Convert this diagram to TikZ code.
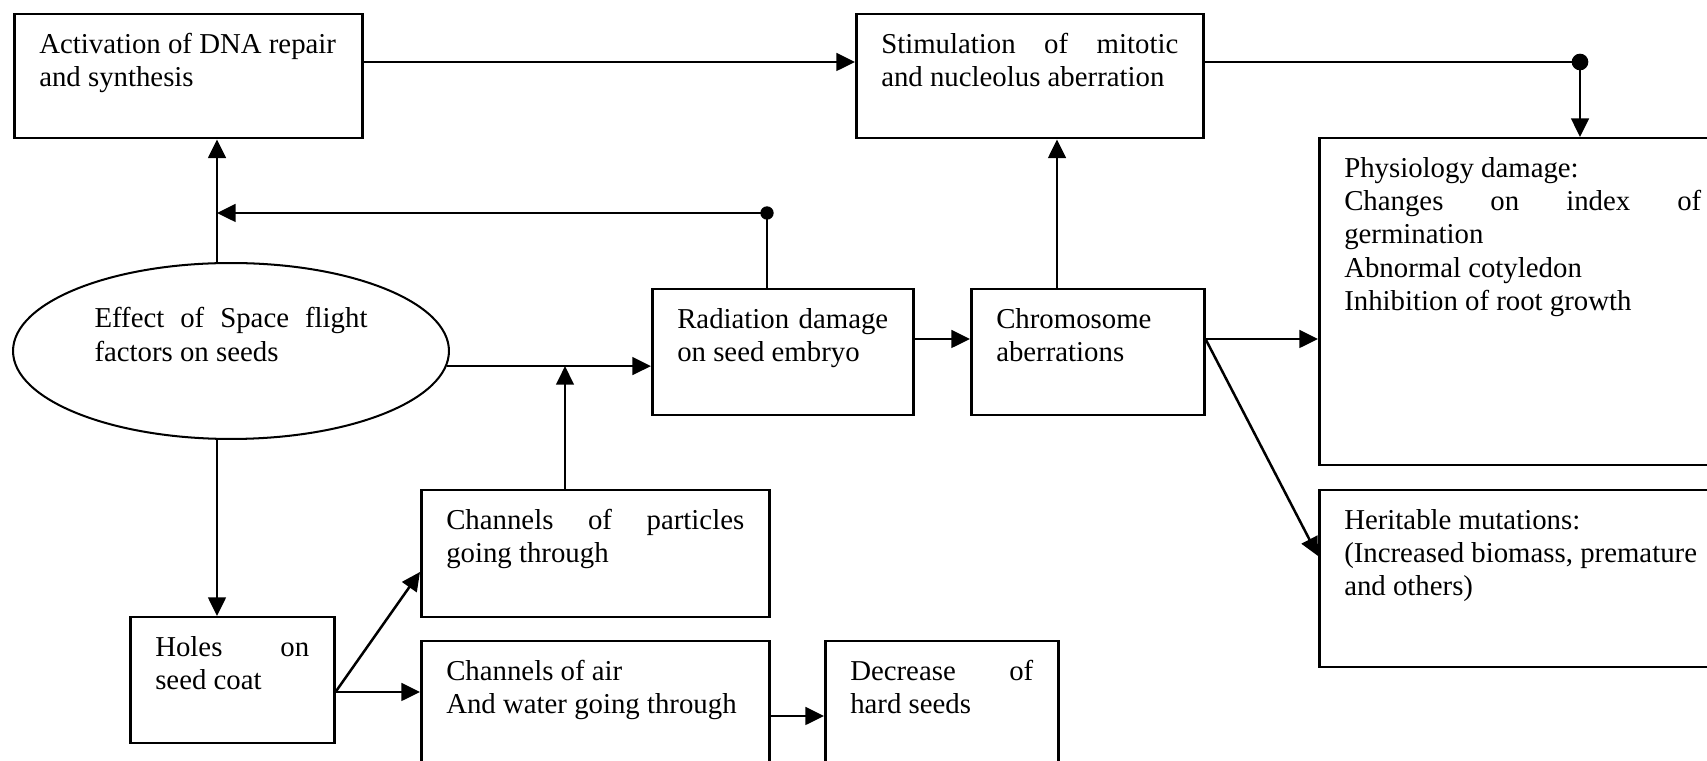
\documentclass[tikz,border=0pt]{standalone}
\usepackage{fontspec}
\setmainfont{Liberation Serif}
\usetikzlibrary{arrows.meta,shapes.geometric}

\newlength\pxu
\setlength\pxu{0.42pt}
% box text: width, height (in px of the sketch), content
\newcommand\boxtext[3]{\parbox[c][\dimexpr#2\pxu-16pt\relax][t]{\dimexpr#1\pxu-21pt\relax}{#3}}
\newcommand\spread[1]{\makebox[\linewidth][s]{#1}}

\begin{document}
\begin{tikzpicture}
  [x=0.42pt,y=-0.42pt,line width=1.05pt,
   every node/.style={font=\fontsize{12.1}{14}\selectfont},
   flowbox/.style={draw,rectangle,anchor=north west,inner xsep=10.5pt,inner ysep=8pt},
   flowarrow/.style={-{Triangle[length=7.8pt,width=7.4pt]}}]
  \useasboundingbox (0,0) rectangle (1707,761);
  \clip (0,0) rectangle (1707,761);

  \node[flowbox] (dna)   at (13,13)   {\boxtext{348}{124}{Activation of DNA repair\\and synthesis}};
  \node[flowbox] (stim)  at (855,13)  {\boxtext{347}{124}{\spread{Stimulation of mitotic}\\and nucleolus aberration}};
  \node[flowbox] (phys)  at (1318,137) {\boxtext{407}{327}{Physiology damage:\\\spread{Changes on index of}\\germination\\Abnormal cotyledon\\Inhibition of root growth}};
  \node[flowbox] (herit) at (1318,489) {\boxtext{407}{177}{Heritable mutations:\\(Increased biomass, premature\\and others)}};
  \node[flowbox] (rad)   at (651,288) {\boxtext{261}{126}{\spread{Radiation damage}\\on seed embryo}};
  \node[flowbox] (chrom) at (970,288) {\boxtext{233}{126}{Chromosome\\aberrations}};
  \node[flowbox] (part)  at (420,489) {\boxtext{348}{127}{\spread{Channels of particles}\\going through}};
  \node[flowbox] (holes) at (129,616) {\boxtext{204}{126}{\spread{Holes on}\\seed coat}};
  \node[flowbox] (air)   at (420,640) {\boxtext{348}{127}{Channels of air\\And water going through}};
  \node[flowbox] (hard)  at (824,640) {\boxtext{233}{127}{\spread{Decrease of}\\hard seeds}};
  \node[draw,ellipse,line width=0.85pt,inner sep=0pt,minimum width=183.1pt,minimum height=73.9pt]
    (eff) at (231,351) {\parbox{273\pxu}{\spread{Effect of Space flight}\\factors on seeds\\\mbox{}}};

  % junctions and guide lines
  \coordinate (j1) at (767,213);
  \coordinate (j2) at (1580,62);
  \coordinate (c1) at (217,0);
  \coordinate (c2) at (1057,0);
  \coordinate (c3) at (565,0);
  \coordinate (r1) at (0,339);
  \coordinate (r2) at (0,556);
  \coordinate (r3) at (0,692);
  \coordinate (r4) at (0,572);
  \coordinate (r5) at (0,716);

  \draw[flowarrow] (dna.east |- j2) -- (stim.west |- j2);
  \draw[flowarrow] (stim.east |- j2) -- (j2) -- (j2 |- phys.north);
  \fill (j2) circle (3.5pt);
  \draw[flowarrow] (eff.north -| c1) -- (dna.south -| c1);
  \draw[flowarrow] (rad.north -| j1) -- (j1) -- (c1 |- j1);
  \fill (j1) circle (2.8pt);
  \draw[flowarrow] (chrom.north -| c2) -- (stim.south -| c2);
  \draw[flowarrow] (eff.-4) -- (rad.west |- eff.-4);
  \draw[flowarrow] (part.north -| c3) -- (c3 |- eff.-4);
  \draw[flowarrow] (rad.east |- r1) -- (chrom.west |- r1);
  \draw[flowarrow] (chrom.east |- r1) -- (phys.west |- r1);
  \draw[flowarrow] (chrom.east |- r1) -- (herit.west |- r2);
  \draw[flowarrow] (eff.south -| c1) -- (holes.north -| c1);
  \draw[flowarrow] (holes.east |- r3) -- (part.west |- r4);
  \draw[flowarrow] (holes.east |- r3) -- (air.west |- r3);
  \draw[flowarrow] (air.east |- r5) -- (hard.west |- r5);
\end{tikzpicture}
\end{document}
